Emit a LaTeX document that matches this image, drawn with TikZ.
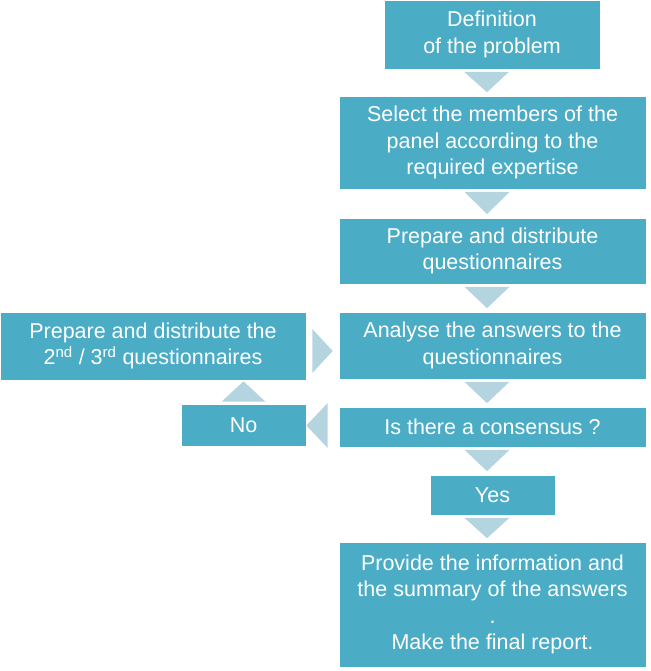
\documentclass[tikz,border=0pt]{standalone}
\usepackage{fontspec}
\setmainfont{Liberation Sans}
\usetikzlibrary{calc}

\definecolor{boxteal}{HTML}{4BACC6}
\definecolor{arrowblue}{HTML}{B4D4E0}

\begin{document}
\begin{tikzpicture}[x=1pt,y=1pt,
  stepbox/.style={fill=boxteal,draw=white,line width=0.6pt,text=white,align=center,
    inner sep=0pt,font=\fontsize{21.5}{26.5}\selectfont},
  flowtri/.style={fill=arrowblue}]

  \useasboundingbox (0,0) rectangle (650,-671);

  \node[stepbox,minimum width=216,minimum height=69] (define) at (492,-34.5) {Definition\\of the problem};
  \node[stepbox,minimum width=307,minimum height=93] (select) at (492.5,-142.5) {Select the members of the\\panel according to the\\required expertise};
  \node[stepbox,minimum width=307,minimum height=66] (prepare) at (492.5,-251) {Prepare and distribute\\questionnaires};
  \node[stepbox,minimum width=307,minimum height=67] (analyse) at (492.5,-345.5) {Analyse the answers to the\\questionnaires};
  \node[stepbox,minimum width=307,minimum height=40] (consensus) at (492.5,-427) {Is there a consensus ?};
  \node[stepbox,minimum width=125,minimum height=40] (yes) at (492.5,-495) {Yes};
  \node[stepbox,minimum width=307,minimum height=125] (report) at (492.5,-604.5) {Provide the information and\\the summary of the answers\\.\\Make the final report.};

  \node[stepbox,minimum width=306,minimum height=68] (redo) at (153,-346) {Prepare and distribute the\\2\textsuperscript{nd} / 3\textsuperscript{rd} questionnaires};
  \node[stepbox,minimum width=125,minimum height=42] (no) at (243.5,-425) {No};

  \foreach \a/\b in {define/select,select/prepare,prepare/analyse,analyse/consensus,consensus/yes,yes/report} {
    \fill[flowtri] ($(\a.south)+(-28,-2.5)$) -- ($(\a.south)+(17,-2.5)$) -- ($(\b.north)+(-5.5,3.5)$) -- cycle;
  }

  \fill[flowtri] ($(consensus.west)+(-11,24)$) -- ($(consensus.west)+(-11,-21)$) -- ($(no.east)+(0,-0.5)$) -- cycle;
  \fill[flowtri] ($(no.north)+(-22,2)$) -- ($(no.north)+(22,2)$) -- ($(no.north |- redo.south)+(0,-1)$) -- cycle;
  \fill[flowtri] ($(redo.east)+(6,17)$) -- ($(redo.east)+(6,-27)$) -- ($(analyse.west)+(-6,-5.5)$) -- cycle;
\end{tikzpicture}
\end{document}
